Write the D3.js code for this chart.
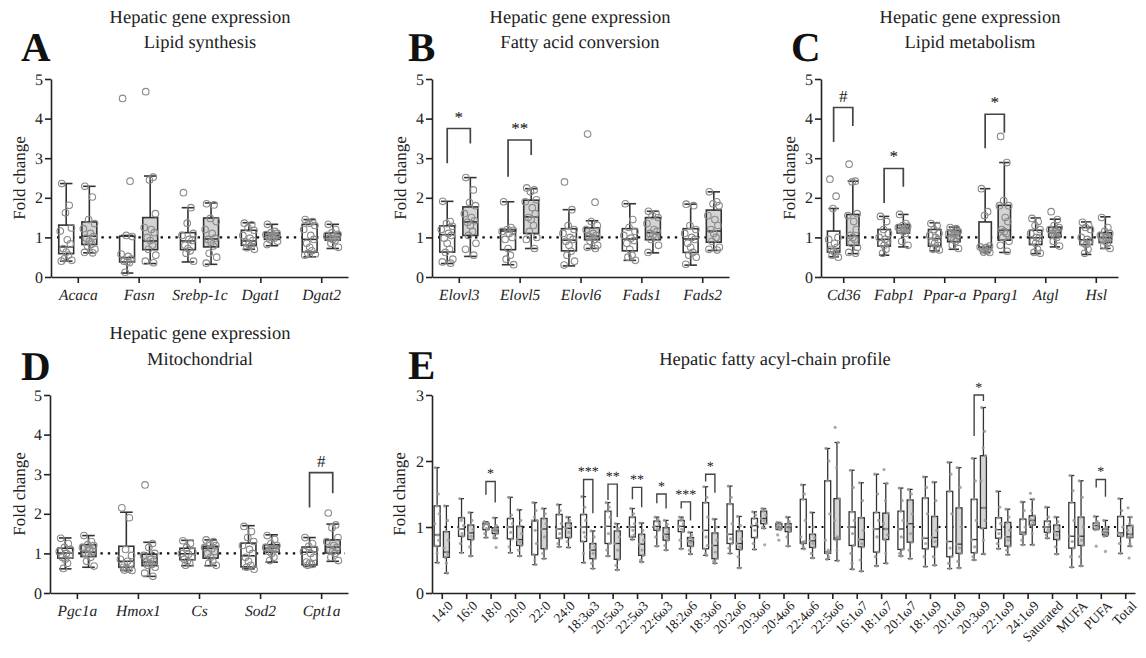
<!DOCTYPE html>
<html>
<head>
<meta charset="utf-8">
<script src="https://d3js.org/d3.v7.min.js"></script>
<style>
  body { margin: 0; background: #fff; }
  svg { font-family: "Liberation Serif", "DejaVu Serif", serif; text-rendering: geometricPrecision; }
</style>
</head>
<body>
<div id="figure"></div>
<script>
// ---- panel A: lipid synthesis  [min, q1, median, q3, max]
var catsA = ["Acaca", "Fasn", "Srebp-1c", "Dgat1", "Dgat2"];
var boxA_ctrl = [[0.40,0.59,0.76,1.31,2.36],[0.10,0.38,0.49,1.03,1.05],[0.38,0.69,0.91,1.12,1.75],[0.70,0.80,0.91,1.18,1.37],[0.51,0.63,0.95,1.33,1.45]];
var boxA_trt  = [[0.61,0.82,1.03,1.39,2.29],[0.34,0.69,0.91,1.50,2.55],[0.32,0.76,0.96,1.49,1.87],[0.79,0.95,1.05,1.12,1.33],[0.72,0.93,1.01,1.11,1.33]];
var ptsA_ctrl = [[2.36,1.81,1.62,1.24,1.16,0.94,0.84,0.72,0.63,0.55,0.46,0.42,0.40],[4.51,2.42,1.05,1.02,0.58,0.52,0.45,0.40,0.38,0.36,0.12],[2.13,1.75,1.36,1.10,1.05,0.95,0.92,0.80,0.72,0.66,0.60,0.40],[1.36,1.32,1.24,1.18,1.05,0.98,0.92,0.88,0.82,0.78,0.74,0.70],[1.45,1.40,1.36,1.30,1.20,1.05,0.95,0.85,0.75,0.66,0.60,0.58,0.55]];
var ptsA_trt  = [[2.29,2.02,1.45,1.35,1.22,1.10,1.02,0.98,0.90,0.83,0.78,0.70,0.62,0.61],[4.68,2.52,2.45,1.60,1.25,1.20,1.12,1.00,0.92,0.80,0.70,0.55,0.40,0.36],[1.85,1.82,1.48,1.40,1.20,1.10,0.98,0.95,0.88,0.78,0.60,0.50,0.35],[1.33,1.15,1.12,1.10,1.07,1.05,1.04,1.02,1.00,0.98,0.95,0.90,0.82],[1.33,1.20,1.12,1.08,1.05,1.02,1.00,0.98,0.95,0.92,0.85,0.75]];
var sigA = [];

// ---- panel B: fatty acid conversion
var catsB = ["Elovl3", "Elovl5", "Elovl6", "Fads1", "Fads2"];
var boxB_ctrl = [[0.34,0.63,1.07,1.29,1.91],[0.31,0.69,1.16,1.20,1.90],[0.28,0.66,0.93,1.22,1.70],[0.42,0.66,0.96,1.22,1.85],[0.30,0.62,0.96,1.22,1.84]];
var boxB_trt  = [[0.52,1.05,1.39,1.77,2.51],[0.72,1.10,1.52,1.94,2.23],[0.72,0.94,1.03,1.24,1.42],[0.61,0.94,1.12,1.50,1.66],[0.67,0.88,1.16,1.69,2.15]];
var ptsB_ctrl = [[1.91,1.40,1.35,1.28,1.20,1.10,1.05,0.98,0.85,0.70,0.62,0.45,0.38,0.35],[1.90,1.25,1.20,1.18,1.15,1.10,1.00,0.95,0.72,0.55,0.45,0.31],[2.40,1.70,1.30,1.20,1.10,1.00,0.95,0.90,0.80,0.65,0.55,0.40,0.30],[1.85,1.45,1.25,1.15,1.05,0.98,0.92,0.85,0.70,0.55,0.50,0.42],[1.84,1.80,1.30,1.20,1.10,1.00,0.95,0.85,0.75,0.62,0.55,0.50,0.32]];
var ptsB_trt  = [[2.51,2.20,1.88,1.80,1.60,1.50,1.42,1.38,1.30,1.15,1.05,0.85,0.70,0.55],[2.25,2.20,2.15,1.95,1.90,1.75,1.60,1.50,1.45,1.30,1.15,1.00,0.95,0.72],[3.61,1.89,1.40,1.30,1.20,1.10,1.05,1.02,1.00,0.95,0.90,0.80,0.75,0.72],[1.66,1.60,1.55,1.50,1.35,1.20,1.15,1.10,1.05,1.00,0.95,0.80,0.62],[2.15,1.90,1.85,1.80,1.55,1.45,1.30,1.20,1.10,1.00,0.90,0.75,0.70,0.68]];
// [category, left leg end, bracket top, right leg end, label]
var sigB = [["Elovl3",2.87,3.75,3.37,"*"],["Elovl5",2.53,3.46,3.08,"**"]];

// ---- panel C: lipid metabolism
var catsC = ["Cd36", "Fabp1", "Ppar-a", "Pparg1", "Atgl", "Hsl"];
var boxC_ctrl = [[0.51,0.63,0.72,1.16,1.73],[0.55,0.78,0.95,1.20,1.53],[0.66,0.78,0.97,1.20,1.37],[0.62,0.74,0.76,1.39,2.23],[0.59,0.82,0.99,1.18,1.49],[0.57,0.82,0.94,1.25,1.39]];
var boxC_trt  = [[0.59,0.80,1.04,1.58,2.42],[0.76,1.11,1.24,1.32,1.58],[0.70,0.89,1.07,1.18,1.26],[0.62,0.93,1.18,1.81,2.89],[0.76,1.01,1.12,1.26,1.46],[0.72,0.87,0.99,1.12,1.52]];
var ptsC_ctrl = [[2.47,2.04,1.73,1.00,0.95,0.85,0.75,0.70,0.65,0.60,0.55,0.50],[1.53,1.40,1.20,1.10,1.00,0.95,0.90,0.85,0.80,0.70,0.60],[1.35,1.30,1.20,1.10,1.05,1.00,0.95,0.90,0.85,0.75,0.70,0.68],[2.23,1.65,1.55,0.78,0.76,0.74,0.72,0.70,0.68,0.65,0.63,0.62],[1.48,1.40,1.30,1.20,1.10,1.00,0.98,0.90,0.85,0.70,0.62,0.60],[1.38,1.30,1.25,1.20,1.00,0.95,0.90,0.85,0.82,0.70,0.60]];
var ptsC_trt  = [[2.85,2.42,2.40,1.60,1.55,1.40,1.20,1.05,1.00,0.95,0.85,0.75,0.62,0.60],[1.58,1.35,1.30,1.28,1.25,1.22,1.20,1.18,1.15,1.10,0.90,0.80],[1.25,1.22,1.20,1.15,1.10,1.08,1.05,1.00,0.95,0.90,0.80,0.72],[3.55,2.89,1.93,1.80,1.80,1.50,1.40,1.20,1.15,1.10,1.00,0.90,0.80,0.65],[1.65,1.45,1.30,1.25,1.20,1.15,1.12,1.10,1.05,1.00,0.90,0.78],[1.50,1.25,1.15,1.10,1.05,1.00,0.98,0.95,0.90,0.85,0.80,0.72]];
var sigC = [["Cd36",3.41,4.28,3.81,"#"],["Fabp1",1.87,2.74,2.28,"*"],["Pparg1",3.25,4.11,3.64,"*"]];

// ---- panel D: mitochondrial
var catsD = ["Pgc1a", "Hmox1", "Cs", "Sod2", "Cpt1a"];
var boxD_ctrl = [[0.61,0.88,1.01,1.13,1.39],[0.57,0.65,0.80,1.18,2.04],[0.69,0.84,0.99,1.13,1.33],[0.61,0.66,0.94,1.26,1.70],[0.67,0.71,1.03,1.16,1.40]];
var boxD_trt  = [[0.65,0.92,1.03,1.22,1.45],[0.42,0.69,0.78,0.98,1.28],[0.69,0.88,1.13,1.18,1.34],[0.78,1.03,1.13,1.22,1.47],[0.80,1.01,1.16,1.34,1.74]];
var ptsD_ctrl = [[1.38,1.25,1.15,1.10,1.05,1.00,0.95,0.90,0.85,0.75,0.62],[2.15,1.90,1.10,0.95,0.85,0.80,0.75,0.65,0.62,0.60,0.58,0.57],[1.32,1.25,1.15,1.05,1.00,0.98,0.90,0.85,0.80,0.75,0.70],[1.68,1.55,1.40,1.30,1.20,1.10,1.00,0.90,0.80,0.70,0.65,0.60],[1.40,1.25,1.18,1.10,1.05,1.00,0.90,0.78,0.75,0.72,0.70]];
var ptsD_trt  = [[1.45,1.30,1.22,1.20,1.15,1.10,1.05,1.00,0.98,0.90,0.80,0.68],[2.73,1.25,1.15,1.00,0.95,0.85,0.80,0.78,0.75,0.72,0.70,0.65,0.50,0.42],[1.34,1.30,1.25,1.20,1.15,1.12,1.05,1.00,0.90,0.80,0.75,0.70],[1.45,1.35,1.25,1.20,1.15,1.12,1.10,1.05,1.00,0.90,0.82],[2.02,1.72,1.65,1.40,1.30,1.20,1.15,1.10,1.05,1.00,0.90,0.82]];
var sigD = [["Cpt1a",2.16,3.04,2.52,"#"]];

// ---- panel E: fatty acyl-chain profile
var catsE = ["14:0","16:0","18:0","20:0","22:0","24:0","18:3ω3","20:5ω3","22:5ω3","22:6ω3","18:2ω6","18:3ω6","20:2ω6","20:3ω6","20:4ω6","22:4ω6","22:5ω6","16:1ω7","18:1ω7","20:1ω7","18:1ω9","20:1ω9","20:3ω9","22:1ω9","24:1ω9","Saturated","MUFA","PUFA","Total"];
var boxE_ctrl = [[0.46,0.71,0.88,1.32,1.90],[0.61,0.86,0.97,1.14,1.43],[0.84,0.96,1.04,1.06,1.08],[0.61,0.82,1.00,1.13,1.45],[0.43,0.58,1.09,1.10,1.37],[0.70,0.83,0.97,1.19,1.34],[0.46,0.78,1.00,1.19,1.46],[0.56,0.75,1.01,1.24,1.37],[0.81,0.85,1.00,1.15,1.28],[0.71,0.95,1.01,1.09,1.15],[0.67,0.93,1.01,1.10,1.15],[0.57,0.67,0.95,1.37,1.61],[0.60,0.75,0.89,1.35,1.62],[0.66,0.84,1.02,1.13,1.23],[0.96,0.97,1.00,1.05,1.07],[0.67,0.75,0.77,1.42,1.64],[0.51,0.60,0.62,1.70,2.19],[0.36,0.72,1.00,1.23,1.86],[0.41,0.62,0.97,1.22,1.80],[0.56,0.66,0.97,1.24,1.59],[0.40,0.67,0.83,1.44,1.76],[0.37,0.55,0.78,1.54,1.98],[0.50,0.61,0.81,1.42,2.04],[0.67,0.83,0.96,1.14,1.54],[0.73,0.89,0.92,1.12,1.38],[0.83,0.92,1.00,1.09,1.30],[0.39,0.68,0.86,1.37,1.78],[0.96,0.97,1.02,1.06,1.16],[0.60,0.86,0.91,1.16,1.43]];
var boxE_trt  = [[0.30,0.54,0.62,0.93,1.32],[0.56,0.81,0.91,1.03,1.22],[0.83,0.90,0.95,0.99,1.14],[0.56,0.72,0.81,1.01,1.26],[0.52,0.67,0.97,1.13,1.28],[0.69,0.84,0.98,1.06,1.15],[0.37,0.52,0.65,0.75,0.94],[0.35,0.51,0.75,0.94,1.05],[0.47,0.57,0.74,0.89,1.06],[0.65,0.80,0.89,0.99,1.10],[0.59,0.71,0.79,0.84,0.92],[0.45,0.52,0.72,0.91,1.12],[0.38,0.66,0.75,0.94,1.16],[0.98,1.05,1.13,1.24,1.28],[0.71,0.93,1.00,1.05,1.15],[0.53,0.69,0.79,0.89,1.22],[0.49,0.81,0.83,1.43,2.28],[0.33,0.70,0.81,1.14,1.67],[0.45,0.81,0.97,1.21,1.66],[0.52,0.77,1.05,1.41,1.57],[0.42,0.70,0.84,1.16,1.68],[0.38,0.60,0.74,1.29,1.90],[0.59,0.98,1.29,2.08,2.81],[0.58,0.71,0.85,1.07,1.27],[0.73,1.03,1.10,1.17,1.42],[0.59,0.81,0.93,1.03,1.15],[0.41,0.72,0.86,1.15,1.70],[0.86,0.88,0.92,0.97,1.10],[0.71,0.84,0.89,1.02,1.15]];
var ptsE_ctrl = [[1.90,1.50,1.32,1.20,1.05,0.88,0.80,0.71,0.60,0.46],[1.43,1.14,1.10,1.02,0.97,0.90,0.86,0.75,0.61],[1.08,1.06,1.05,1.04,1.02,0.98,0.96,0.90,0.84],[1.45,1.18,1.13,1.05,1.00,0.92,0.82,0.70,0.61],[1.37,1.25,1.15,1.10,1.09,0.95,0.75,0.58,0.50,0.43],[1.34,1.25,1.19,1.05,0.97,0.90,0.83,0.75,0.70],[1.46,1.30,1.19,1.10,1.00,0.92,0.85,0.78,0.60,0.46],[1.37,1.30,1.24,1.15,1.01,0.90,0.75,0.65,0.56],[1.28,1.20,1.15,1.05,1.00,0.95,0.88,0.85,0.81],[1.15,1.12,1.09,1.05,1.01,0.98,0.95,0.85,0.71],[1.15,1.12,1.10,1.05,1.01,0.97,0.93,0.80,0.67],[1.61,1.45,1.37,1.15,0.95,0.85,0.72,0.67,0.60,0.57],[1.62,1.45,1.35,1.05,0.89,0.82,0.75,0.68,0.60],[1.23,1.18,1.13,1.05,1.02,0.95,0.84,0.75,0.66],[1.07,1.05,1.03,1.00,0.99,0.97,0.96,0.88,0.80],[1.64,1.50,1.42,1.10,0.85,0.78,0.77,0.75,0.70,0.67],[2.19,2.00,1.70,1.20,0.80,0.65,0.62,0.61,0.60,0.55,0.51],[1.86,1.60,1.23,1.10,1.00,0.90,0.72,0.60,0.45,0.36],[1.80,1.50,1.22,1.10,0.97,0.85,0.62,0.55,0.41],[1.59,1.40,1.24,1.10,0.97,0.85,0.66,0.60,0.56],[1.76,1.60,1.44,1.20,0.83,0.75,0.67,0.55,0.40],[1.98,1.80,1.54,1.20,0.78,0.68,0.55,0.45,0.37],[2.04,1.70,1.42,1.10,0.81,0.70,0.61,0.55,0.50],[1.54,1.30,1.14,1.05,0.96,0.90,0.83,0.75,0.67],[1.38,1.25,1.12,1.00,0.92,0.90,0.89,0.80,0.73],[1.30,1.15,1.09,1.04,1.00,0.96,0.92,0.88,0.83],[1.78,1.55,1.37,1.10,0.86,0.78,0.68,0.55,0.39],[1.16,1.08,1.06,1.04,1.02,0.99,0.97,0.96,0.71],[1.43,1.25,1.16,1.00,0.91,0.88,0.86,0.75,0.60]];
var ptsE_trt  = [[1.32,1.10,0.93,0.80,0.68,0.62,0.58,0.54,0.45,0.30],[1.22,1.10,1.03,0.96,0.91,0.86,0.81,0.70,0.56],[1.14,1.02,0.99,0.97,0.95,0.93,0.90,0.86,0.83,0.69],[1.26,1.10,1.01,0.90,0.81,0.77,0.72,0.65,0.56],[1.28,1.20,1.13,1.05,0.97,0.85,0.67,0.60,0.52],[1.15,1.10,1.06,1.02,0.98,0.92,0.84,0.78,0.69],[0.94,0.85,0.75,0.70,0.65,0.60,0.52,0.45,0.37],[1.05,0.98,0.94,0.85,0.75,0.65,0.51,0.42,0.35],[1.06,0.95,0.89,0.80,0.74,0.65,0.57,0.50,0.47],[1.10,1.04,0.99,0.93,0.89,0.85,0.80,0.72,0.65],[0.92,0.88,0.84,0.81,0.79,0.76,0.71,0.65,0.59],[1.12,1.00,0.91,0.80,0.72,0.62,0.52,0.48,0.45],[1.16,1.02,0.94,0.82,0.75,0.70,0.66,0.55,0.38],[1.28,1.26,1.24,1.18,1.13,1.10,1.05,1.00,0.98,0.73],[1.15,1.08,1.05,1.02,1.00,0.97,0.93,0.85,0.71],[1.22,1.00,0.89,0.84,0.79,0.75,0.69,0.60,0.53],[2.51,2.28,1.90,1.43,1.10,0.85,0.83,0.81,0.65,0.49],[1.67,1.40,1.14,0.95,0.81,0.75,0.70,0.50,0.33],[1.87,1.66,1.40,1.21,1.05,0.97,0.88,0.81,0.60,0.45],[1.57,1.50,1.41,1.20,1.05,0.90,0.77,0.65,0.52],[1.68,1.40,1.16,0.95,0.84,0.78,0.70,0.55,0.42],[1.90,1.60,1.29,1.00,0.74,0.68,0.60,0.48,0.38],[2.81,2.45,2.20,2.08,1.70,1.29,1.10,0.98,0.80,0.59],[1.27,1.15,1.07,0.95,0.85,0.80,0.71,0.65,0.58],[1.51,1.42,1.25,1.17,1.12,1.10,1.06,1.03,0.90,0.73],[1.15,1.08,1.03,0.98,0.93,0.88,0.81,0.70,0.59],[1.70,1.45,1.15,1.00,0.86,0.80,0.72,0.55,0.41],[1.10,1.00,0.97,0.94,0.92,0.90,0.88,0.86,0.63],[1.29,1.15,1.05,1.02,0.95,0.89,0.86,0.84,0.75,0.71,0.53]];
var sigE = [["18:0",1.49,1.69,1.37,"*"],["18:3ω3",1.47,1.72,1.21,"***"],["20:5ω3",1.41,1.65,1.15,"**"],["22:5ω3",1.42,1.60,1.30,"**"],["22:6ω3",1.36,1.50,1.28,"*"],["18:2ω6",1.28,1.38,1.10,"***"],["18:3ω6",1.69,1.80,1.52,"*"],["20:3ω9",2.38,3.00,2.91,"*"],["PUFA",1.60,1.72,1.46,"*"]];

// horizontal spread of the dots inside a box (fraction of box half-width)
var jitter = [-0.6,0.4,-0.1,0.7,-0.8,0.15,0.55,-0.4,0.0,0.3,-0.25,0.75,-0.65,0.45,-0.15,0.2];

var width = 1146, height = 658;
var svg = d3.select("#figure").append("svg")
  .attr("width", width).attr("height", height);
svg.append("rect").attr("width", width).attr("height", height).attr("fill", "#fff");

function drawPanel(p) {
  var g = svg.append("g");
  var x = d3.scalePoint().domain(p.cats).range([p.x0, p.x1]).padding(p.pad);
  var y = d3.scaleLinear().domain([0, p.max]).range([p.yBot, p.yTop]);
  var step = x.step();
  var off = step * 0.19, bw = step * 0.245, capW = bw * 0.42;

  // y axis
  var ya = g.append("g").attr("transform", "translate(" + p.x0 + ",0)")
    .call(d3.axisLeft(y).tickValues(d3.range(0, p.max + 1)).tickSize(6).tickSizeOuter(0).tickFormat(d3.format("d")));
  ya.selectAll("path,line").attr("stroke", "#222").attr("stroke-width", 1.6);
  ya.selectAll("text").attr("font-size", 16).attr("font-family", "Liberation Serif").attr("fill", "#222").attr("x", -8);

  // x axis
  var xa = g.append("g").attr("transform", "translate(0," + p.yBot + ")")
    .call(d3.axisBottom(x).tickSize(6).tickSizeOuter(0));
  xa.selectAll("path,line").attr("stroke", "#222").attr("stroke-width", 1.6);
  var xt = xa.selectAll("text").attr("font-family", "Liberation Serif").attr("fill", "#222");
  if (p.rot) {
    xt.attr("font-size", 13.5).attr("text-anchor", "end")
      .attr("transform", "translate(4,6) rotate(-45)").attr("y", 6).attr("x", 0).attr("dy", "0.35em");
  } else {
    xt.attr("font-size", 15.5).attr("font-style", "italic").attr("y", 12);
  }

  // y label
  g.append("text")
    .attr("transform", "translate(" + p.labX + "," + ((p.yTop + p.yBot) / 2) + ") rotate(-90)")
    .attr("text-anchor", "middle").attr("dy", "0.35em")
    .attr("font-size", 17).attr("fill", "#222").text("Fold change");

  // reference line at 1
  g.append("line")
    .attr("x1", p.x0 + 6).attr("x2", p.x1 - 3).attr("y1", y(1)).attr("y2", y(1))
    .attr("stroke", "#111").attr("stroke-width", p.rot ? 2 : 2.4).attr("stroke-dasharray", p.rot ? "2,4.5" : "2.4,5");

  var groups = [];
  p.cats.forEach(function (c, i) {
    groups.push({ cx: x(c) - off, s: p.ctrl[i], pts: p.pc[i], fill: "#fff" });
    groups.push({ cx: x(c) + off, s: p.trt[i], pts: p.pt[i], fill: "#d4d4d4" });
  });

  var sw = p.rot ? 1.3 : 1.6;
  var bg = g.selectAll("g.box").data(groups).enter().append("g").attr("class", "box");
  bg.append("line").attr("x1", d => d.cx).attr("x2", d => d.cx)
    .attr("y1", d => y(d.s[0])).attr("y2", d => y(d.s[4]))
    .attr("stroke", "#333").attr("stroke-width", sw);
  bg.append("line").attr("x1", d => d.cx - capW).attr("x2", d => d.cx + capW)
    .attr("y1", d => y(d.s[4])).attr("y2", d => y(d.s[4]))
    .attr("stroke", "#333").attr("stroke-width", sw);
  bg.append("line").attr("x1", d => d.cx - capW).attr("x2", d => d.cx + capW)
    .attr("y1", d => y(d.s[0])).attr("y2", d => y(d.s[0]))
    .attr("stroke", "#333").attr("stroke-width", sw);
  bg.append("rect").attr("x", d => d.cx - bw / 2).attr("width", bw)
    .attr("y", d => y(d.s[3])).attr("height", d => y(d.s[1]) - y(d.s[3]))
    .attr("fill", d => d.fill).attr("stroke", "#333").attr("stroke-width", sw);
  bg.append("line").attr("x1", d => d.cx - bw / 2).attr("x2", d => d.cx + bw / 2)
    .attr("y1", d => y(d.s[2])).attr("y2", d => y(d.s[2]))
    .attr("stroke", "#333").attr("stroke-width", sw);

  // individual animals
  bg.selectAll("circle").data(function (d) {
    return d.pts.map(function (v, j) { return { cx: d.cx + jitter[j % jitter.length] * bw * 0.5, v: v }; });
  }).enter().append("circle")
    .attr("cx", d => d.cx).attr("cy", d => y(d.v))
    .attr("r", p.rot ? 1.6 : 3.3)
    .attr("fill", p.rot ? "#9a9a9a" : "none")
    .attr("fill-opacity", 0.85)
    .attr("stroke", p.rot ? "none" : "#8a8a8a")
    .attr("stroke-width", 1.1);

  // significance brackets
  p.sig.forEach(function (s) {
    var xl = x(s[0]) - off, xr = x(s[0]) + off;
    g.append("path")
      .attr("d", "M" + xl + "," + y(s[1]) + "V" + y(s[2]) + "H" + xr + "V" + y(s[3]))
      .attr("fill", "none").attr("stroke", "#444").attr("stroke-width", p.rot ? 1.4 : 1.7);
    g.append("text").attr("x", (xl + xr) / 2).attr("y", y(s[2]) - (p.rot ? 3 : 6))
      .attr("text-anchor", "middle").attr("font-size", p.rot ? 14 : 17)
      .attr("fill", "#222").text(s[4]);
  });
}

drawPanel({ cats: catsA, ctrl: boxA_ctrl, trt: boxA_trt, pc: ptsA_ctrl, pt: ptsA_trt, sig: sigA,
  x0: 51, x1: 348, yTop: 79, yBot: 277, max: 5, pad: 0.44, labX: 19 });
drawPanel({ cats: catsB, ctrl: boxB_ctrl, trt: boxB_trt, pc: ptsB_ctrl, pt: ptsB_trt, sig: sigB,
  x0: 432, x1: 729, yTop: 79, yBot: 277, max: 5, pad: 0.44, labX: 400 });
drawPanel({ cats: catsC, ctrl: boxC_ctrl, trt: boxC_trt, pc: ptsC_ctrl, pt: ptsC_trt, sig: sigC,
  x0: 821, x1: 1118, yTop: 79, yBot: 277, max: 5, pad: 0.44, labX: 789 });
drawPanel({ cats: catsD, ctrl: boxD_ctrl, trt: boxD_trt, pc: ptsD_ctrl, pt: ptsD_trt, sig: sigD,
  x0: 50, x1: 348, yTop: 395, yBot: 593, max: 5, pad: 0.44, labX: 19 });
drawPanel({ cats: catsE, ctrl: boxE_ctrl, trt: boxE_trt, pc: ptsE_ctrl, pt: ptsE_trt, sig: sigE,
  x0: 432, x1: 1135, yTop: 395, yBot: 593, max: 3, pad: 0.4, labX: 399, rot: true });

// titles and panel letters
var titles = [
  { x: 200, y: 23, t: "Hepatic gene expression" }, { x: 200, y: 48, t: "Lipid synthesis" },
  { x: 580, y: 23, t: "Hepatic gene expression" }, { x: 580, y: 48, t: "Fatty acid conversion" },
  { x: 970, y: 23, t: "Hepatic gene expression" }, { x: 970, y: 48, t: "Lipid metabolism" },
  { x: 200, y: 339, t: "Hepatic gene expression" }, { x: 200, y: 365, t: "Mitochondrial" },
  { x: 775, y: 365, t: "Hepatic fatty acyl-chain profile" }
];
svg.selectAll("text.title").data(titles).enter().append("text").attr("class", "title")
  .attr("x", d => d.x).attr("y", d => d.y).attr("text-anchor", "middle")
  .attr("font-size", 18.5).attr("fill", "#222").text(d => d.t);

var letters = [
  { x: 21, y: 61, t: "A" }, { x: 408, y: 61, t: "B" }, { x: 791, y: 61, t: "C" },
  { x: 21, y: 380, t: "D" }, { x: 408, y: 379, t: "E" }
];
svg.selectAll("text.letter").data(letters).enter().append("text").attr("class", "letter")
  .attr("x", d => d.x).attr("y", d => d.y)
  .attr("font-size", 41).attr("font-weight", "bold").attr("fill", "#111").text(d => d.t);
</script>
</body>
</html>
